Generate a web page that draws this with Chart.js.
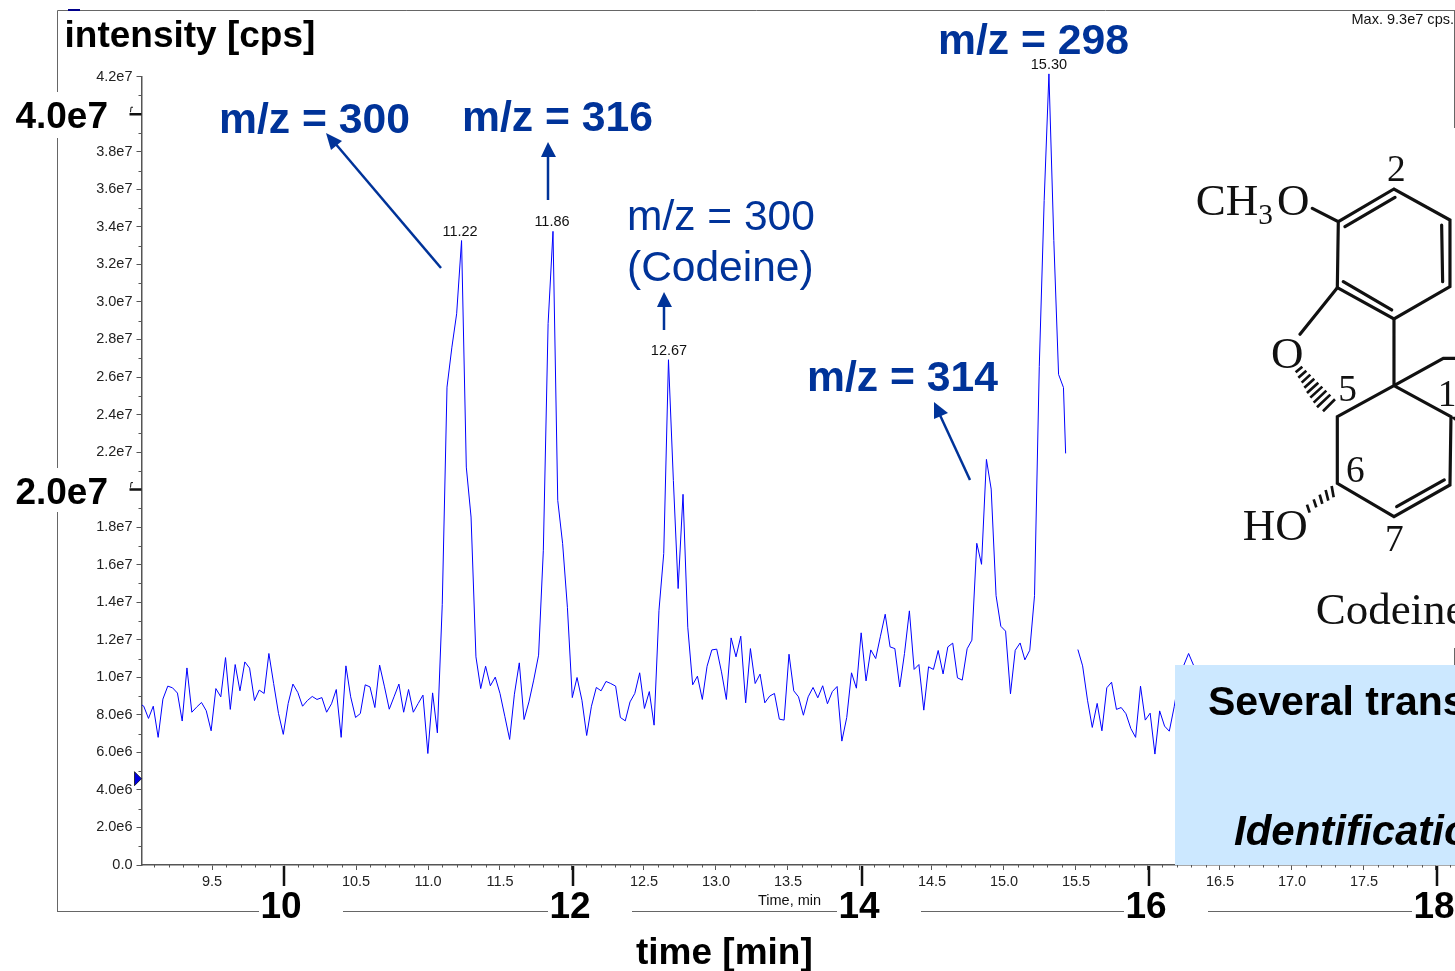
<!DOCTYPE html>
<html><head><meta charset="utf-8">
<script src="https://cdn.jsdelivr.net/npm/chart.js@4"></script>
<style>
html,body{margin:0;padding:0;background:#fff;width:1455px;height:971px;overflow:hidden}
#wrap{position:relative;width:1455px;height:971px;overflow:hidden}
canvas{position:absolute;left:0;top:0}
svg{position:absolute;left:0;top:0}
svg text{font-family:"Liberation Sans",Arial,sans-serif}
.serif text{font-family:"Liberation Serif",serif;fill:#111}
</style></head><body>
<div id="wrap">
<canvas id="c" width="1455" height="971"></canvas>
<svg width="1455" height="971" viewBox="0 0 1455 971">
  <text x="64.5" y="47" font-size="37" font-weight="700" fill="#000">intensity [cps]</text>
  <text x="1351.5" y="24" font-size="15" fill="#111" textLength="102.5" lengthAdjust="spacingAndGlyphs">Max. 9.3e7 cps.</text>
  <text x="636" y="964" font-size="37" font-weight="700" fill="#000">time [min]</text>
  <g fill="#003399" font-size="42.7" font-weight="700">
    <text x="219" y="133">m/z = 300</text>
    <text x="462" y="131">m/z = 316</text>
    <text x="938" y="54">m/z = 298</text>
    <text x="807" y="391">m/z = 314</text>
  </g>
  <g fill="#003399" font-size="42.5">
    <text x="627" y="230">m/z = 300</text>
    <text x="627" y="281">(Codeine)</text>
  </g>
  <g stroke="#003399" stroke-width="2.5" fill="#003399">
    <line x1="441" y1="268" x2="334" y2="142"/>
    <polygon stroke="none" points="326,133 342,141 331,150"/>
    <line x1="548" y1="200" x2="548" y2="155"/>
    <polygon stroke="none" points="548,142 556,157 541,157"/>
    <line x1="664" y1="330" x2="664" y2="305"/>
    <polygon stroke="none" points="664,292 672,307 657,307"/>
    <line x1="970" y1="480" x2="939" y2="413"/>
    <polygon stroke="none" points="934,402 948,413 934,419"/>
  </g>
  <g class="serif" transform="translate(1175 140) scale(0.3333)">
    <g stroke="#111" stroke-width="9.5" fill="none" stroke-linecap="round">
      <path d="M412 205L490 245L657 147L825 240L825 440L657 537L487 443L490 245"/>
      <path d="M510 260L660 172M800 255L803 425M505 425L650 510"/>
      <path d="M487 443L375 583M657 537L657 737L487 830L487 1030L657 1130L825 1035L828 830L657 737M657 737L805 655L860 655"/>
      <path d="M665 1100L808 1020"/>
      <path stroke-width="8" stroke-linecap="butt" d="M382 680L362 697M394 692L370 713M406 704L380 728M418 716L388 743M430 728L396 759M442 740L406 773M454 752L416 788M466 764L426 802M480 778L444 814"/>
      <path stroke-width="8" stroke-linecap="butt" d="M470 1038L476 1072M452 1050L460 1082M434 1064L442 1092M416 1078L424 1102M396 1094L404 1118"/>
    </g>
    <path d="M825 830L850 830L850 850Z" fill="#111"/>
    <g font-size="135">
      <text x="62" y="225">CH</text>
      <text x="250" y="252" font-size="88">3</text>
      <text x="306" y="225">O</text>
      <text x="288" y="685">O</text>
      <text x="203" y="1200">HO</text>
      <text x="422" y="1452">Codeine</text>
    </g>
    <g font-size="112">
      <text x="636" y="122">2</text>
      <text x="490" y="782">5</text>
      <text x="788" y="797">14</text>
      <text x="513" y="1026">6</text>
      <text x="630" y="1232">7</text>
    </g>
  </g>
  <rect x="1175" y="665" width="280" height="200" fill="#CCE8FF"/>
  <text x="1208" y="715" font-size="41" font-weight="700" fill="#000">Several trans</text>
  <text x="1234" y="845" font-size="42" font-weight="700" font-style="italic" fill="#000">Identificatio</text>
</svg>
</div>
<script>
// Scan times (min)
const scanTimes = [9.014,9.026,9.059,9.092,9.126,9.159,9.193,9.226,9.260,9.293,9.326,9.360,9.393,9.427,9.460,9.494,9.527,9.561,9.594,9.627,9.661,9.694,9.728,9.761,9.795,9.828,9.862,9.895,9.928,9.962,9.995,10.029,10.062,10.096,10.129,10.162,10.196,10.229,10.263,10.296,10.330,10.363,10.397,10.430,10.463,10.497,10.530,10.564,10.597,10.631,10.664,10.698,10.731,10.764,10.798,10.831,10.865,10.898,10.932,10.965,10.999,11.032,11.065,11.099,11.132,11.166,11.199,11.233,11.266,11.299,11.333,11.366,11.400,11.433,11.467,11.500,11.534,11.567,11.600,11.634,11.667,11.701,11.734,11.768,11.801,11.834,11.868,11.901,11.935,11.968,12.002,12.035,12.069,12.102,12.135,12.169,12.202,12.236,12.269,12.303,12.336,12.370,12.403,12.436,12.470,12.503,12.537,12.570,12.604,12.637,12.670,12.704,12.737,12.771,12.804,12.838,12.871,12.905,12.938,12.971,13.005,13.038,13.072,13.105,13.139,13.172,13.206,13.239,13.272,13.306,13.339,13.373,13.406,13.440,13.473,13.507,13.540,13.573,13.607,13.640,13.674,13.707,13.741,13.774,13.808,13.841,13.874,13.908,13.941,13.975,14.008,14.042,14.075,14.109,14.142,14.175,14.209,14.242,14.276,14.309,14.343,14.376,14.409,14.443,14.476,14.510,14.543,14.577,14.610,14.644,14.677,14.710,14.744,14.777,14.811,14.844,14.878,14.911,14.945,14.978,15.011,15.045,15.078,15.112,15.145,15.179,15.212,15.245,15.279,15.312,15.346,15.379,15.413,15.428,15.450,15.513,15.546,15.580,15.613,15.647,15.680,15.714,15.747,15.781,15.814,15.847,15.881,15.914,15.948,15.981,16.015,16.048,16.081,16.115,16.148,16.182,16.215,16.249,16.282,16.316];
// Intensity, in units of 1e6 cps (null = section hidden in the original figure)
const intensity = [8.52,8.46,7.81,8.46,6.80,8.84,9.53,9.44,9.16,7.67,10.50,8.14,8.41,8.66,8.22,7.15,9.40,8.96,11.05,8.29,10.68,9.28,10.82,10.49,8.76,9.32,9.14,11.27,9.67,8.07,6.96,8.61,9.64,9.19,8.46,8.76,8.98,8.82,8.92,8.14,8.59,9.35,6.80,10.61,8.96,7.86,8.07,9.60,9.49,8.39,10.65,9.49,8.30,8.96,9.64,8.14,9.35,8.14,8.61,9.05,5.94,9.17,7.04,13.89,25.46,27.59,29.37,33.27,21.20,18.54,11.09,9.40,10.59,9.55,10.01,9.14,7.90,6.69,9.10,10.77,7.75,8.69,9.85,11.18,16.77,28.84,33.76,19.43,17.12,13.73,8.92,9.99,8.78,6.90,8.46,9.46,9.28,9.78,9.67,9.53,7.86,7.68,8.69,9.14,10.24,8.34,9.24,7.45,13.57,16.59,26.92,20.49,14.73,19.75,12.67,9.60,10.06,8.82,10.59,11.46,11.50,10.29,8.82,12.10,11.09,12.19,8.64,11.53,9.67,10.17,8.64,9.00,9.14,7.77,7.72,11.23,9.28,8.96,7.98,8.96,9.46,8.91,9.55,8.59,9.24,9.51,6.60,7.86,10.24,9.42,12.37,9.81,11.46,11.00,12.19,13.36,11.62,11.53,9.49,11.27,13.54,10.42,10.68,8.25,10.56,10.42,11.43,10.18,11.62,11.82,9.97,9.85,11.52,11.98,17.14,16.02,21.61,20.03,14.35,12.72,12.46,9.12,11.44,11.83,10.93,11.44,14.35,26.56,35.40,42.15,33.27,26.14,25.44,21.93,null,11.48,10.61,8.78,7.33,8.61,7.15,9.44,9.74,8.29,8.39,8.06,7.27,6.80,9.53,7.72,8.09,5.91,8.21,7.40,7.13,8.43,9.94,10.65,11.27,10.65];
// Axis ticks
const yLabelled = [0,2,4,6,8,10,12,14,16,18,20,22,24,26,28,30,32,34,36,38,40,42];
const yMinor = [1,3,5,7,9,11,13,15,17,19,21,23,25,27,29,31,33,35,37,39,41];
const yBig = [20,40];
const xMajor = [9.5,10,10.5,11,11.5,12,12.5,13,13.5,14,14.5,15,15.5,16,16.5,17,17.5,18];
const xBig = [10,12,14,16,18];
const xBigPosition = [10,12.007,14.014,16.007,18.007];
const xMinorStep = [9.1,9.2,9.3,9.4,9.6,9.7,9.8,9.9,10.1,10.2,10.3,10.4,10.6,10.7,10.8,10.9,11.1,11.2,11.3,11.4,11.6,11.7,11.8,11.9,12.1,12.2,12.3,12.4,12.6,12.7,12.8,12.9,13.1,13.2,13.3,13.4,13.6,13.7,13.8,13.9,14.1,14.2,14.3,14.4,14.6,14.7,14.8,14.9,15.1,15.2,15.3,15.4,15.6,15.7,15.8,15.9,16.1,16.2,16.3,16.4,16.6,16.7,16.8,16.9,17.1,17.2,17.3,17.4,17.6,17.7,17.8,17.9,18.1];
// Apex labels
const peakTimes = [11.233,11.868,12.670,15.312];
const peakHeights = [33.27,33.76,26.92,42.15];
const peakLabels = ['11.22','11.86','12.67','15.30'];

const points = scanTimes.map((t,i)=>({x:t,y:intensity[i]}));
const AXIS='#555', FONT='"Liberation Sans",Arial,sans-serif';

const decor = {
  id:'decor',
  beforeDraw(chart){
    const c=chart.ctx, sx=chart.scales.x;
    c.save();
    c.strokeStyle='#666'; c.lineWidth=1;
    c.beginPath();
    c.moveTo(57.5,92); c.lineTo(57.5,10.5); c.lineTo(1455,10.5);
    c.moveTo(57.5,138); c.lineTo(57.5,468);
    c.moveTo(57.5,512); c.lineTo(57.5,911.5);
    c.moveTo(57,911.5);
    xBigPosition.forEach(v=>{const p=sx.getPixelForValue(v); c.lineTo(p-25,911.5); c.moveTo(p+59,911.5);});
    c.stroke();
    c.beginPath();
    c.moveTo(1454.5,10); c.lineTo(1454.5,128);
    c.moveTo(1454.5,648); c.lineTo(1454.5,665);
    c.stroke();
    c.fillStyle='#00008b'; c.fillRect(68,9,12,2);
    c.restore();
  },
  afterDraw(chart){
    const c=chart.ctx, sx=chart.scales.x, sy=chart.scales.y;
    const l=chart.chartArea.left, b=chart.chartArea.bottom;
    c.save();
    c.strokeStyle=AXIS; c.lineWidth=1;
    c.beginPath();
    yMinor.forEach(v=>{const p=Math.round(sy.getPixelForValue(v))+.5; c.moveTo(l-3,p); c.lineTo(l,p);});
    xMinorStep.forEach(v=>{const p=Math.round(sx.getPixelForValue(v))+.5; c.moveTo(p,b); c.lineTo(p,b+2.5);});
    c.stroke();
    c.strokeStyle='#111'; c.lineWidth=2.5;
    c.beginPath();
    xBigPosition.forEach(v=>{const p=sx.getPixelForValue(v); c.moveTo(p,b+1); c.lineTo(p,b+21);});
    yBig.forEach(v=>{const p=sy.getPixelForValue(v); c.moveTo(l-12,p); c.lineTo(l,p);});
    c.stroke();
    c.lineWidth=1;
    c.beginPath();
    yBig.forEach(v=>{const p=sy.getPixelForValue(v); c.moveTo(131,p-7); c.lineTo(130.5,p-2); c.moveTo(131,p-7); c.lineTo(133,p-7);});
    c.stroke();
    c.fillStyle='#000'; c.textBaseline='alphabetic';
    c.font='700 37px '+FONT; c.textAlign='center';
    xBig.forEach((v,i)=>c.fillText(String(v),sx.getPixelForValue(xBigPosition[i])-3,918));
    c.textAlign='right';
    yBig.forEach(v=>c.fillText((v/10).toFixed(1)+'e7',108,sy.getPixelForValue(v)+14));
    c.font='14.5px '+FONT; c.textAlign='center'; c.fillStyle='#111';
    c.fillText('Time, min',789.5,905);
    peakLabels.forEach((s,i)=>{
      const off=[[-1.5,-5],[-1,-5],[0.5,-5],[0,-5]][i];
      c.fillText(s,sx.getPixelForValue(peakTimes[i])+off[0],sy.getPixelForValue(peakHeights[i])+off[1]);
    });
    // cursor marker
    const ty=sy.getPixelForValue(4.6);
    c.fillStyle='#0000e0'; c.strokeStyle='#000'; c.lineWidth=.7;
    c.beginPath(); c.moveTo(l-7,ty-7); c.lineTo(l,ty); c.lineTo(l-7,ty+7); c.closePath(); c.fill(); c.stroke();
    c.restore();
  }
};

new Chart(document.getElementById('c'),{
  type:'line',
  data:{datasets:[{data:points,borderColor:'#0000ff',borderWidth:1,pointRadius:0,tension:0,spanGaps:false,clip:false,parsing:false}]},
  options:{
    responsive:false,animation:false,
    layout:{padding:{top:76.7,right:0,left:0,bottom:0}},
    plugins:{legend:{display:false},tooltip:{enabled:false},title:{display:false}},
    scales:{
      x:{type:'linear',min:9.0104,max:18.132,
        afterBuildTicks(s){s.ticks=xMajor.map(v=>({value:v}));},
        afterFit(s){s.height=106;},
        border:{color:AXIS,width:1.5},
        grid:{drawOnChartArea:false,drawTicks:true,tickLength:5,tickColor:AXIS},
        ticks:{autoSkip:false,maxRotation:0,padding:3,color:'#222',font:{family:FONT,size:14.5},
          callback:v=>xBig.includes(v)?'':v.toFixed(1)}},
      y:{type:'linear',min:0,max:42,
        afterBuildTicks(s){s.ticks=yLabelled.map(v=>({value:v}));},
        afterFit(s){s.width=141.5;},
        border:{color:AXIS,width:1.5},
        grid:{drawOnChartArea:false,drawTicks:true,tickLength:5,tickColor:AXIS},
        ticks:{autoSkip:false,padding:4,color:'#222',font:{family:FONT,size:14.5},
          callback:v=>{
            if(yBig.includes(v))return '';
            if(v===0)return '0.0';
            return v<10?v.toFixed(1)+'e6':(v/10).toFixed(1)+'e7';
          }}}
    }
  },
  plugins:[decor]
});
</script>
</body></html>
